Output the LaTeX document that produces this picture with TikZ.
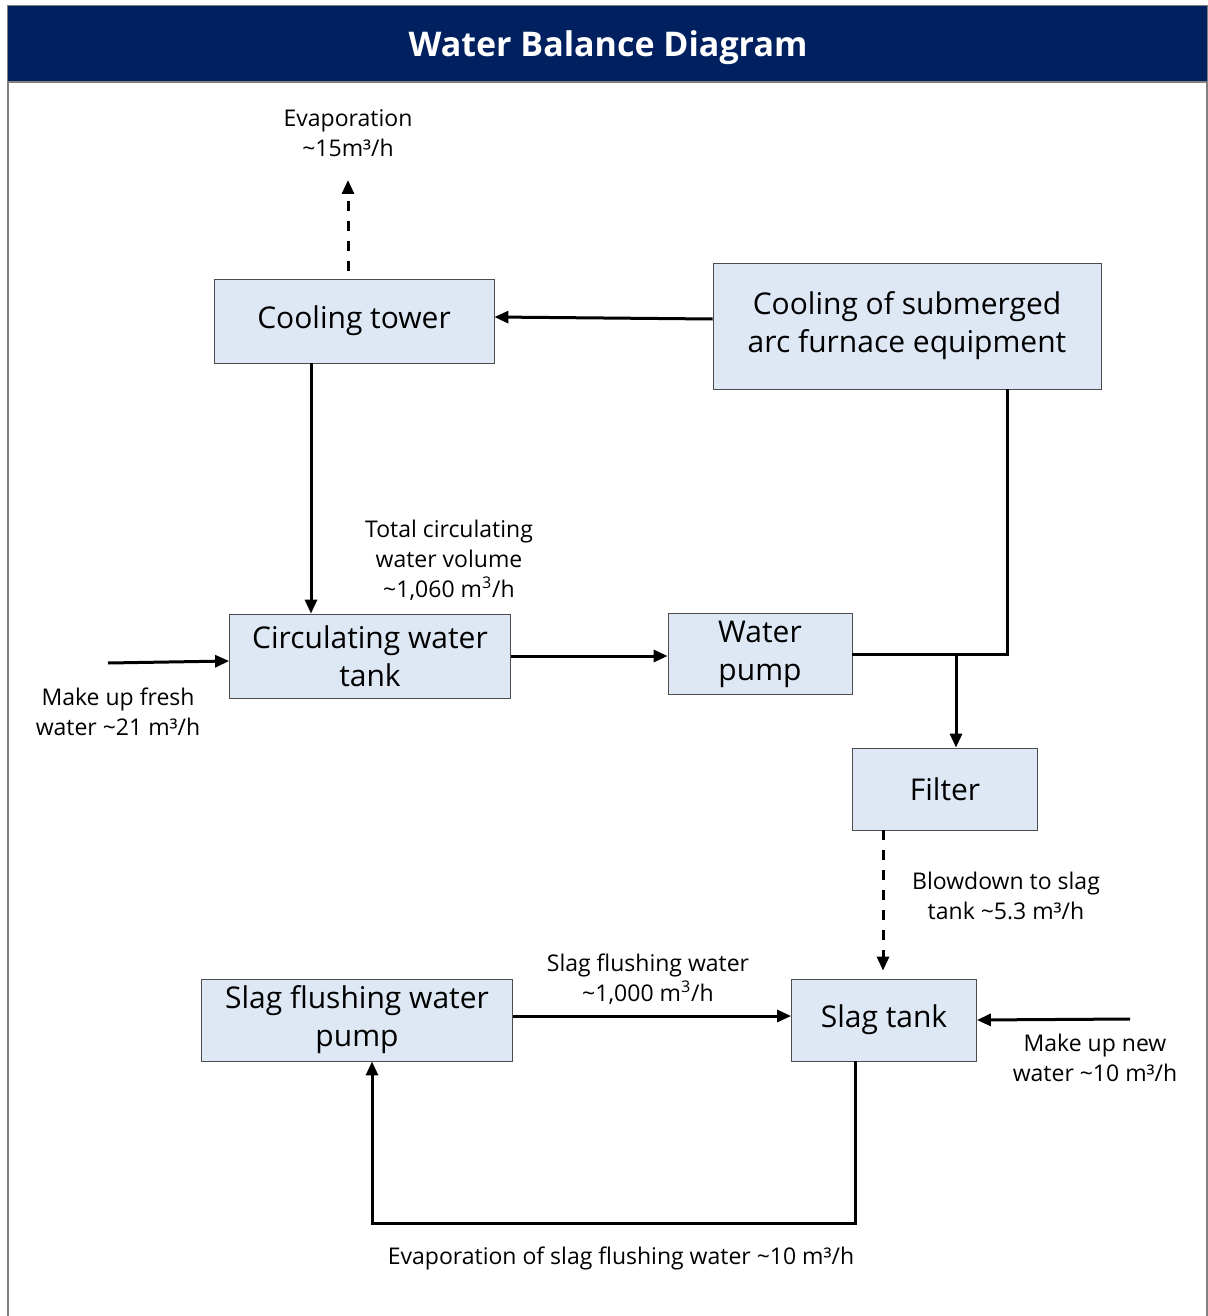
\documentclass[tikz,border=0pt]{standalone}
\usepackage{fontspec}
\setmainfont{Open Sans}
\usetikzlibrary{positioning,arrows.meta}
\definecolor{navy}{HTML}{002060}
\definecolor{boxblue}{HTML}{DEE8F5}

\begin{document}
\begin{tikzpicture}[x=0.5pt,y=-0.5pt,on grid,
   unit/.style={draw=black!70,fill=boxblue,align=center,inner sep=0pt,
     font=\fontsize{15}{19}\selectfont},
   note/.style={align=center,font=\fontsize{11.5}{15}\selectfont},
   flow/.style={-{Triangle[length=7pt,width=6pt]},line width=1.5pt},
   pipe/.style={line width=1.5pt},
   blow/.style={flow,dash pattern=on 5pt off 5pt}]
   \useasboundingbox (0,0) rectangle (1208,1316);
   % frame and title band
   \draw[gray,line width=0.8pt] (8,6) rectangle (1207,1340);
   \fill[navy] (8,6) rectangle (1207,82);
   \draw[gray,line width=0.8pt] (8,82) -- (1207,82);
   \node[text=white,font=\bfseries\fontsize{17}{20}\selectfont] (title) at (608,48) {Water Balance Diagram};

   % units
   \node [unit,minimum width=140pt,minimum height=42pt] (ctower) at (354,321) {Cooling tower};
   \node [unit,minimum width=194pt,minimum height=63pt,below right=2.5pt and 276.5pt of ctower] (furnace) {Cooling of submerged\\arc furnace equipment};
   \node [unit,minimum width=140.5pt,minimum height=42pt,below right=167.5pt and 8pt of ctower] (ctank) {Circulating water\\tank};
   \node [unit,minimum width=92pt,minimum height=40.5pt,right=195pt of ctank,yshift=1pt] (wpump) {Water\\pump};
   \node [unit,minimum width=92.5pt,minimum height=41pt,below right=67.5pt and 92.5pt of wpump] (filter) {Filter};
   \node [unit,minimum width=92.5pt,minimum height=41pt,below left=115.5pt and 30.5pt of filter] (stank) {Slag tank};
   \node [unit,minimum width=155.5pt,minimum height=41pt,left=263.5pt of stank] (spump) {Slag flushing water\\pump};

   % labels
   \node [note] (evaptxt) at (348,133) {Evaporation\\\textasciitilde15m³/h};
   \node [note] (totaltxt) at (449,560) {Total circulating\\water volume\\\textasciitilde1,060 m\textsuperscript{3}/h};
   \node [note] (freshtxt) at (118,712) {Make up fresh\\water \textasciitilde21 m³/h};
   \node [note] (blowtxt) at (1006,896) {Blowdown to slag\\tank \textasciitilde5.3 m³/h};
   \node [note] (flushtxt) at (648,979) {Slag flushing water\\\textasciitilde1,000 m\textsuperscript{3}/h};
   \node [note] (newtxt) at (1095,1058) {Make up new\\water \textasciitilde10 m³/h};
   \node [note] (slagevap) at (621,1258) {Evaporation of slag flushing water \textasciitilde10 m³/h};

   \coordinate (evapend) at (348,180);
   \coordinate (fresh) at (108,663);
   \coordinate (split) at (956,654);
   \coordinate (newin) at (1130,1019);
   \coordinate (loopbot) at (600,1223);

   % flows
   \draw[blow] ([xshift=-3pt,yshift=4pt]ctower.north) -- (evapend);
   \draw[flow] ([yshift=3.5pt]furnace.west) -- ([yshift=2pt]ctower.east);
   \draw[flow] ([xshift=-21.5pt]ctower.south) -- ([xshift=-21.5pt]ctower.south |- ctank.north);
   \draw[flow] (fresh) -- ([yshift=-2.5pt]ctank.west);
   \draw[flow] (ctank.east) -- (ctank.east -| wpump.west);
   \draw[pipe] ([xshift=50pt]furnace.south) |- (wpump.east);
   \draw[flow] (split) -- (split |- filter.north);
   \draw[blow,shorten >=4pt] ([xshift=-31pt]filter.south) -- ([xshift=-31pt]filter.south |- stank.north);
   \draw[flow] ([yshift=2pt]spump.east) -- ([yshift=2pt]stank.west);
   \draw[flow] (newin) -- (stank.east);
   \draw[flow] ([xshift=-14.5pt]stank.south) |- (loopbot) -| ([xshift=7.5pt]spump.south);
\end{tikzpicture}
\end{document}
